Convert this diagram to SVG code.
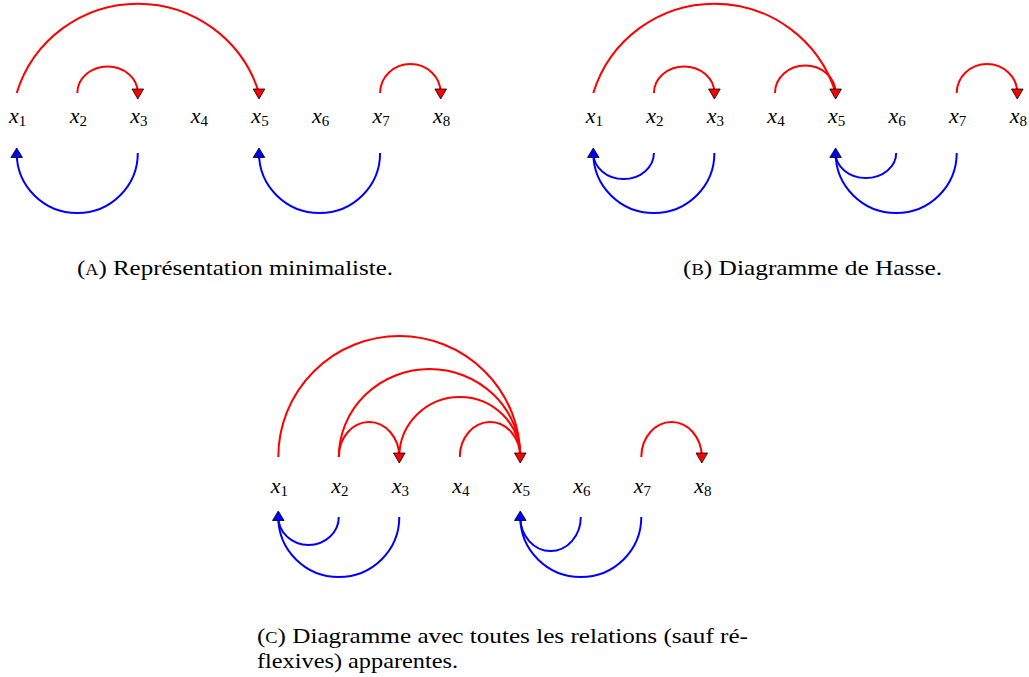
<svg xmlns="http://www.w3.org/2000/svg" width="1029" height="677" viewBox="0 0 1029 677">
<defs>
<style>
.r{fill:none;stroke:#ff0000;stroke-width:2}
.b{fill:none;stroke:#0000ff;stroke-width:2}
.ar{fill:#ff0000;stroke:#000;stroke-width:0.8;stroke-linejoin:miter}
.ab{fill:#0000ff;stroke:#000;stroke-width:0.8;stroke-linejoin:miter}
.lbl{font-style:italic;font-size:22px;fill:#000;text-anchor:middle}
.sub{font-style:normal;font-size:15px}
.cap{font-size:22px;fill:#000}
.sc{font-size:16px}
</style>
<path id="dn" d="M-5.8,-10 L5.8,-10 L0,0 Z"/>
<path id="up" d="M-5.8,9.5 L5.8,9.5 L0,0 Z"/>
</defs>
<rect width="1029" height="677" fill="#fff"/>

<g id="connectors">
<!-- Panel A -->
<path class="r" d="M16.7,93 A126.8,126.8 0 0 1 259,93"/>
<path class="r" d="M77.3,93 A30.25,26.5 0 0 1 137.8,93"/>
<path class="r" d="M380.1,93 A30.3,29 0 0 1 440.7,93"/>
<path class="b" d="M137.8,153 A60.55,60 0 0 1 16.7,153"/>
<path class="b" d="M380.1,153 A60.55,60 0 0 1 259,153"/>
<use href="#dn" class="ar" x="137.8" y="99"/>
<use href="#dn" class="ar" x="259" y="99"/>
<use href="#dn" class="ar" x="440.7" y="99"/>
<use href="#up" class="ab" x="16.7" y="148"/>
<use href="#up" class="ab" x="259" y="148"/>
<!-- Panel B -->
<path class="r" d="M593.3,93 A126.8,126.8 0 0 1 835.6,93"/>
<path class="r" d="M653.9,93 A30.25,26.5 0 0 1 714.4,93"/>
<path class="r" d="M775,93 A30.3,27.5 0 0 1 835.6,93"/>
<path class="r" d="M956.7,93 A30.3,29 0 0 1 1017.3,93"/>
<path class="b" d="M653.9,153 A30.3,26 0 0 1 593.3,153"/>
<path class="b" d="M714.4,153 A60.55,60 0 0 1 593.3,153"/>
<path class="b" d="M896.2,153 A30.3,25 0 0 1 835.6,153"/>
<path class="b" d="M956.7,153 A60.55,60 0 0 1 835.6,153"/>
<use href="#dn" class="ar" x="714.4" y="99"/>
<use href="#dn" class="ar" x="835.6" y="99"/>
<use href="#dn" class="ar" x="1017.3" y="99"/>
<use href="#up" class="ab" x="593.3" y="148"/>
<use href="#up" class="ab" x="835.6" y="148"/>
<!-- Panel C -->
<path class="r" d="M278.3,457 A121,121 0 0 1 520.3,457"/>
<path class="r" d="M338.8,457 A90.75,88 0 0 1 520.3,457"/>
<path class="r" d="M399.3,457 A60.5,60 0 0 1 520.3,457"/>
<path class="r" d="M338.8,457 A30.25,35 0 0 1 399.3,457"/>
<path class="r" d="M459.8,457 A30.25,35 0 0 1 520.3,457"/>
<path class="r" d="M641.3,457 A30.25,35 0 0 1 701.8,457"/>
<path class="b" d="M338.8,517 A30.25,28 0 0 1 278.3,517"/>
<path class="b" d="M399.3,517 A60.5,60 0 0 1 278.3,517"/>
<path class="b" d="M580.8,517 A30.25,34 0 0 1 520.3,517"/>
<path class="b" d="M641.3,517 A60.5,60 0 0 1 520.3,517"/>
<use href="#dn" class="ar" x="399.3" y="463"/>
<use href="#dn" class="ar" x="520.3" y="463"/>
<use href="#dn" class="ar" x="701.8" y="463"/>
<use href="#up" class="ab" x="278.3" y="511"/>
<use href="#up" class="ab" x="520.3" y="511"/>
</g>

<g font-family="'Liberation Serif', 'Times New Roman', serif">
<g id="panelA-nodes">
<g id="a-x1"><text class="lbl" x="17.7" y="122.5">x<tspan class="sub" dy="3">1</tspan></text></g>
<g id="a-x2"><text class="lbl" x="78.3" y="122.5">x<tspan class="sub" dy="3">2</tspan></text></g>
<g id="a-x3"><text class="lbl" x="138.8" y="122.5">x<tspan class="sub" dy="3">3</tspan></text></g>
<g id="a-x4"><text class="lbl" x="199.4" y="122.5">x<tspan class="sub" dy="3">4</tspan></text></g>
<g id="a-x5"><text class="lbl" x="260" y="122.5">x<tspan class="sub" dy="3">5</tspan></text></g>
<g id="a-x6"><text class="lbl" x="320.6" y="122.5">x<tspan class="sub" dy="3">6</tspan></text></g>
<g id="a-x7"><text class="lbl" x="381.1" y="122.5">x<tspan class="sub" dy="3">7</tspan></text></g>
<g id="a-x8"><text class="lbl" x="441.7" y="122.5">x<tspan class="sub" dy="3">8</tspan></text></g>
</g>
<g id="panelB-nodes">
<g id="b-x1"><text class="lbl" x="594.3" y="122.5">x<tspan class="sub" dy="3">1</tspan></text></g>
<g id="b-x2"><text class="lbl" x="654.9" y="122.5">x<tspan class="sub" dy="3">2</tspan></text></g>
<g id="b-x3"><text class="lbl" x="715.4" y="122.5">x<tspan class="sub" dy="3">3</tspan></text></g>
<g id="b-x4"><text class="lbl" x="776" y="122.5">x<tspan class="sub" dy="3">4</tspan></text></g>
<g id="b-x5"><text class="lbl" x="836.6" y="122.5">x<tspan class="sub" dy="3">5</tspan></text></g>
<g id="b-x6"><text class="lbl" x="897.2" y="122.5">x<tspan class="sub" dy="3">6</tspan></text></g>
<g id="b-x7"><text class="lbl" x="957.7" y="122.5">x<tspan class="sub" dy="3">7</tspan></text></g>
<g id="b-x8"><text class="lbl" x="1018.3" y="122.5">x<tspan class="sub" dy="3">8</tspan></text></g>
</g>
<g id="panelC-nodes">
<g id="c-x1"><text class="lbl" x="279.3" y="492.5">x<tspan class="sub" dy="3">1</tspan></text></g>
<g id="c-x2"><text class="lbl" x="339.8" y="492.5">x<tspan class="sub" dy="3">2</tspan></text></g>
<g id="c-x3"><text class="lbl" x="400.3" y="492.5">x<tspan class="sub" dy="3">3</tspan></text></g>
<g id="c-x4"><text class="lbl" x="460.8" y="492.5">x<tspan class="sub" dy="3">4</tspan></text></g>
<g id="c-x5"><text class="lbl" x="521.3" y="492.5">x<tspan class="sub" dy="3">5</tspan></text></g>
<g id="c-x6"><text class="lbl" x="581.8" y="492.5">x<tspan class="sub" dy="3">6</tspan></text></g>
<g id="c-x7"><text class="lbl" x="642.3" y="492.5">x<tspan class="sub" dy="3">7</tspan></text></g>
<g id="c-x8"><text class="lbl" x="702.8" y="492.5">x<tspan class="sub" dy="3">8</tspan></text></g>
</g>

<g id="captions">
<text class="cap" x="77" y="275" textLength="316" lengthAdjust="spacingAndGlyphs">(<tspan class="sc">A</tspan>) Représentation minimaliste.</text>
<text class="cap" x="683" y="275" textLength="259" lengthAdjust="spacingAndGlyphs">(<tspan class="sc">B</tspan>) Diagramme de Hasse.</text>
<text class="cap" x="257" y="643" textLength="491" lengthAdjust="spacingAndGlyphs">(<tspan class="sc">C</tspan>) Diagramme avec toutes les relations (sauf ré-</text>
<text class="cap" x="257" y="668" textLength="201" lengthAdjust="spacingAndGlyphs">flexives) apparentes.</text>
</g>
</g>
</svg>
